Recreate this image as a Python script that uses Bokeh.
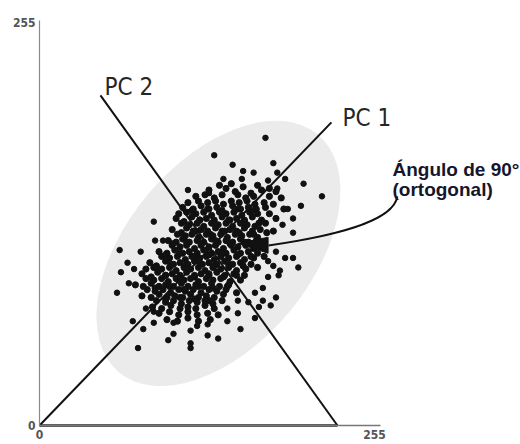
from bokeh.plotting import figure
from bokeh.models import Range1d, FixedTicker
from bokeh.core.properties import value
from bokeh.embed import file_html
from bokeh.resources import INLINE

# ---- data (0..255 pixel-value space) ----
axis_ticks = [0, 255]

pc1_x = [0, 222.2]
pc1_y = [0, 191.8]
pc2_x = [46.4, 226.8]
pc2_y = [208.9, 0]

outer_x = [133, 172, 178, 147, 155, 163, 140, 113, 129, 174, 181, 187, 201, 215, 199, 193, 189,
           87, 61, 77, 88, 94, 62, 67, 72, 59, 68, 71, 81, 75, 79, 87, 98, 102, 115, 115, 115,
           120, 128, 136, 143, 153, 151, 164, 170, 176, 180, 182, 183, 187, 197, 193, 178, 174,
           170, 154, 181, 193, 185, 102, 128, 87, 180, 174, 164, 151, 143, 167, 159]
outer_y = [171, 182, 166, 165, 161, 160, 156, 149, 147, 155, 160, 156, 153, 145, 139, 131, 137,
           129, 111, 110, 117, 117, 97, 103, 99, 84, 90, 66, 74, 49, 61, 65, 54, 65, 60, 49, 52,
           63, 64, 55, 66, 61, 71, 68, 79, 76, 81, 95, 98, 106, 100, 106, 101, 94,
           87, 156, 150, 122, 127, 58, 57, 72, 110, 104, 84, 79, 74, 75, 78]

core_pts = [
    (137, 152), (146, 153), (155, 151), (166, 152), (175, 150),
    (129, 149), (142, 150), (149, 148), (161, 147), (169, 149), (180, 148),
    (119, 145), (126, 146), (133, 144), (139, 146), (151, 146), (157, 144), (163, 145), (175, 145), (184, 144),
    (113, 141), (121, 142), (128, 141), (134, 142), (140, 140), (146, 142), (152, 141), (158, 142), (164, 140), (171, 141), (178, 140),
    (109, 138), (117, 137), (123, 139), (129, 137), (135, 138), (147, 139), (153, 137), (159, 138), (165, 137), (172, 138), (186, 137),
    (106, 134), (112, 135), (119, 134), (125, 135), (131, 133), (137, 135), (142, 134), (148, 135), (154, 133), (160, 135), (166, 134), (175, 134),
    (104, 131), (116, 132), (122, 130), (127, 131), (133, 130), (139, 132), (145, 130), (150, 131), (156, 130), (162, 132), (169, 130), (180, 131),
    (108, 128), (114, 127), (120, 128), (125, 126), (131, 128), (136, 127), (142, 128), (147, 126), (153, 128), (158, 127), (164, 126), (172, 128),
    (101, 124), (112, 125), (117, 123), (123, 124), (128, 123), (134, 125), (139, 123), (145, 124), (150, 123), (156, 125), (162, 123), (168, 124), (178, 123),
    (105, 121), (111, 120), (116, 121), (121, 119), (127, 121), (132, 120), (138, 121), (143, 119), (149, 121), (154, 120), (160, 121), (166, 119),
    (98, 117), (104, 116), (109, 118), (114, 116), (120, 117), (125, 116), (131, 118), (136, 116), (142, 117), (147, 116), (153, 118), (159, 116), (165, 117), (171, 116),
    (101, 114), (107, 113), (112, 114), (118, 112), (123, 114), (129, 113), (134, 114), (140, 112), (146, 114), (151, 113), (157, 114), (163, 112),
    (91, 110), (97, 109), (103, 111), (109, 109), (114, 110), (120, 109), (125, 111), (131, 109), (136, 110), (142, 109), (148, 111), (153, 109), (159, 110), (166, 109),
    (93, 107), (99, 106), (105, 107), (111, 105), (116, 107), (122, 106), (127, 107), (133, 105), (138, 107), (144, 106), (150, 107), (156, 105), (163, 106), (171, 107),
    (84, 103), (96, 104), (102, 102), (107, 103), (113, 102), (118, 104), (124, 102), (129, 103), (135, 102), (141, 104), (147, 102), (153, 103), (161, 102),
    (81, 99), (87, 100), (93, 99), (99, 100), (104, 98), (110, 100), (115, 99), (121, 100), (126, 98), (132, 100), (138, 99), (144, 100), (150, 98), (157, 99), (166, 100),
    (78, 96), (90, 97), (96, 95), (101, 96), (107, 95), (112, 97), (118, 95), (123, 96), (129, 95), (135, 97), (141, 95), (148, 96), (156, 95),
    (81, 93), (87, 92), (93, 93), (98, 91), (104, 93), (110, 92), (115, 93), (121, 91), (127, 93), (132, 92), (138, 93), (145, 91), (153, 92),
    (73, 89), (79, 88), (85, 90), (91, 88), (96, 89), (102, 88), (108, 90), (113, 88), (119, 89), (125, 88), (131, 90), (137, 88), (144, 89),
    (82, 86), (88, 85), (94, 86), (100, 84), (106, 86), (111, 85), (117, 86), (123, 84), (129, 86), (135, 85), (142, 86), (150, 84),
    (78, 82), (85, 81), (91, 83), (97, 81), (103, 82), (109, 81), (115, 83), (121, 81), (127, 82), (133, 81), (140, 83),
    (89, 79), (96, 78), (102, 79), (108, 77), (114, 79), (120, 78), (126, 79), (132, 77), (139, 79),
    (86, 75), (93, 74), (100, 76), (107, 74), (113, 75), (119, 74), (126, 76), (133, 74),
    (91, 71), (99, 72), (106, 70), (113, 72), (120, 70), (128, 71), (136, 70),
    (97, 67), (105, 66), (113, 68), (121, 66), (130, 67),
]
# the darkest centre of the cloud: extra overlapping dots
centre_pts = [
    (116, 136), (128, 137), (139, 136), (151, 137), (162, 136),
    (110, 129), (122, 130), (133, 128), (144, 130), (156, 129), (167, 128),
    (108, 122), (119, 123), (130, 121), (141, 123), (152, 122), (163, 121), (173, 122),
    (101, 115), (112, 116), (123, 115), (134, 117), (145, 115), (156, 116), (167, 114),
    (96, 108), (107, 109), (118, 107), (129, 108), (140, 109), (151, 108), (161, 107),
    (89, 101), (100, 102), (111, 101), (122, 103), (133, 101), (144, 102), (155, 101),
    (85, 94), (96, 95), (107, 93), (118, 94), (129, 96), (140, 94), (150, 95),
    (88, 87), (99, 88), (110, 86), (121, 88), (132, 87), (143, 88),
    (96, 80), (107, 81), (118, 80), (129, 79),
]
core_x = [pt[0] for pt in core_pts + centre_pts]
core_y = [pt[1] for pt in core_pts + centre_pts]

# ---- figure: the frame fills the whole figure, axes sit at 0 ----
p = figure(width=520, height=444, output_backend="svg", toolbar_location=None,
           x_range=Range1d(-29.69, 366.14), y_range=Range1d(-12.02, 268.92),
           min_border_left=0, min_border_right=0, min_border_top=0, min_border_bottom=0)
p.outline_line_color = None
p.grid.visible = False
p.background_fill_color = "white"
p.border_fill_color = "white"

narrow = "Liberation Sans Narrow, DejaVu Sans Condensed, sans-serif"
for ax in (p.xaxis[0], p.yaxis[0]):
    ax.ticker = FixedTicker(ticks=axis_ticks)
    ax.fixed_location = 0
    ax.major_tick_line_color = None
    ax.major_tick_out = 0
    ax.major_tick_in = 0
    ax.minor_tick_line_color = None
    ax.major_label_text_font = narrow
    ax.major_label_text_font_style = "bold"
    ax.major_label_text_color = "#555555"
    ax.major_label_text_font_size = "12px"
p.xaxis.major_label_standoff = 4
p.yaxis.major_label_standoff = 4
p.xaxis.bounds = (0, 259.6)
p.yaxis.bounds = (0, 256.27)
p.xaxis.axis_line_color = "#777777"
p.xaxis.axis_line_width = 1.5
p.yaxis.axis_line_color = "#8a8a8a"
p.yaxis.axis_line_width = 1.2

p.ellipse(x=[136.2], y=[108.9], width=[310], height=[184], angle=[0.873],
          width_units="screen", height_units="screen",
          fill_color="#ebebeb", line_color=None)

p.segment(x0=[0], y0=[0], x1=[pc2_x[1]], y1=[0], line_color="#222222", line_width=2.5)

p.line(pc1_x, pc1_y, line_color="#111111", line_width=2)
p.line(pc2_x, pc2_y, line_color="#111111", line_width=2)

p.scatter(outer_x, outer_y, size=5.5, color="#111111")
p.scatter(core_x, core_y, size=6.2, color="#111111")

p.bezier(x0=[272.4], y0=[145], x1=[174.3], y1=[113.9],
         cx0=[269.4], cy0=[128.5], cx1=[221.5], cy1=[119.6],
         line_color="#111111", line_width=2)
p.patch(x=[151, 174, 174], y=[115.2, 119.1, 109], color="#111111")

p.text(x=[49.5, 230.6], y=[214.2, 194.3], text=["PC 2", "PC 1"],
       text_font=value(narrow), text_font_size="24px", text_color="#262626",
       text_baseline="alphabetic", text_align="left")
p.text(x=[268.7, 268.7], y=[162.0, 149.3], text=["Ángulo de 90°", "(ortogonal)"],
       text_font=value("Liberation Sans"), text_font_style="bold",
       text_font_size="19px", text_color="#16162a",
       text_baseline="alphabetic", text_align="left")

open("out.html", "w").write(file_html(p, INLINE))
